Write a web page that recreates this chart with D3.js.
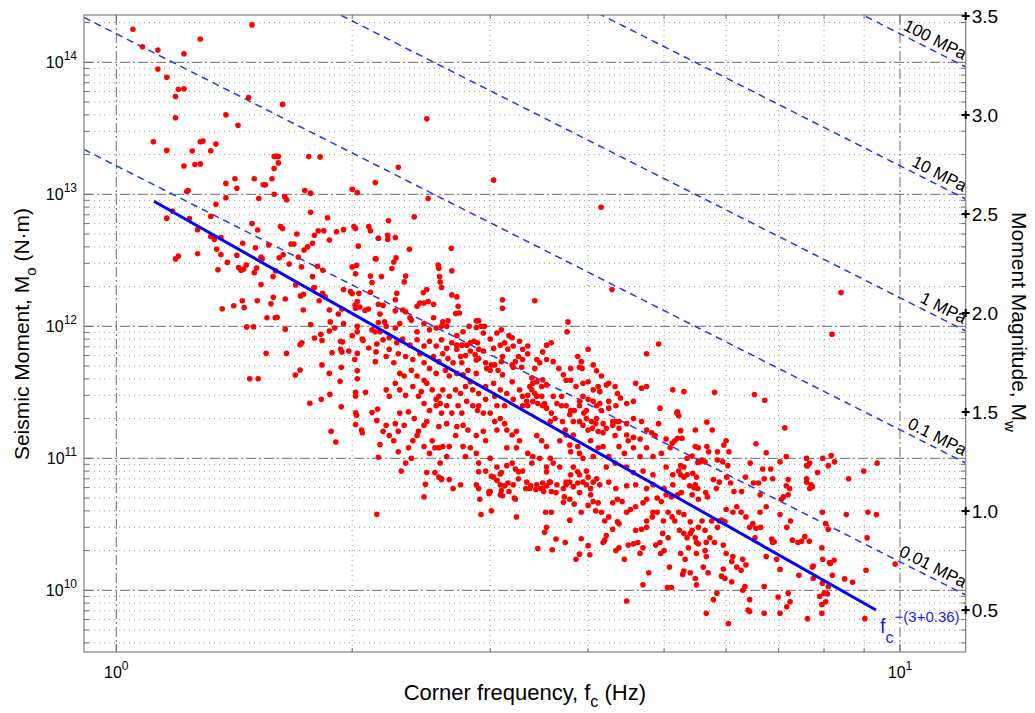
<!DOCTYPE html>
<html><head><meta charset="utf-8">
<script src="https://cdn.jsdelivr.net/npm/d3@7/dist/d3.min.js"></script>
<style>
body{margin:0;background:#fff}
svg{display:block}
text{font-family:"Liberation Sans",Arial,Helvetica,sans-serif;fill:#000}
</style>
</head><body>
<svg id="chart" width="1035" height="713"></svg>
<script>
// ---------------- data ----------------
const fcDomain = [0.9095, 12.13];          // Hz, x-axis limits
const m0Domain = [3.41e9, 2.282e14];       // N·m, y-axis limits
const xMajorTicks = [1, 10];
const yMajorTicks = [1e10, 1e11, 1e12, 1e13, 1e14];
const mwTicks = [0.5, 1.0, 1.5, 2.0, 2.5, 3.0, 3.5];
const stressDrops = [100, 10, 1, 0.1, 0.01];            // MPa
const stressLabels = ["100 MPa", "10 MPa", "1 MPa", "0.1 MPa", "0.01 MPa"];
const stressLogConst1MPa = 15.216;   // log10(M0) + 3 log10(fc) for 1 MPa
const fitExponent = 3.36;
const fitFcRange = [1.117, 9.32];
const fitM0AtStart = 8.85e12;
const fitLabelSup = "\u2212(3+0.36)";

// [corner frequency (Hz), seismic moment (N·m)]
const events = [
[1.05,1.78e14],[1.08,1.31e14],[1.13,1.24e14],[1.22,1.16e14],[1.28,1.5e14],[1.49,1.92e14],[1.13,8.9e13],[1.16,7.7e13],[1.2,6.25e13],[1.22,6.3e13],[1.19,5.5e13],[1.19,3.8e13],[1.115,2.5e13],[1.16,2.15e13],[1.475,5.4e13],[1.63,4.8e13],[1.38,4.0e13],[1.43,3.33e13],[1.28,2.5e13],[1.29,2.53e13],[1.25,2.13e13],[1.32,2.14e13],[1.34,2.4e13],[1.22,1.64e13],[1.26,1.68e13],[1.28,1.7e13],[1.23,1.05e13],[1.235,1.07e13],[1.38,1.21e13],[1.425,1.11e13],[1.417,1.31e13],[1.5,1.31e13],[1.54,1.18e13],[1.55,1.18e13],[1.58,1.31e13],[1.59,1.93e13],[1.6,1.95e13],[1.61,1.93e13],[1.61,1.73e13],[1.59,1.57e13],[1.59,1.0e13],[1.52,9.3e12],[1.64,9.6e12],[1.65,9.1e12],[1.34,8.4e12],[1.38,9.4e12],[1.18,7.47e12],[1.16,6.6e12],[1.24,6.55e12],[1.32,6.8e12],[1.49,6.0e12],[1.515,5.37e12],[1.62,5.7e12],[1.63,5.5e12],[1.7,5.0e12],[1.27,5.4e12],[1.32,4.8e12],[1.36,4.7e12],
[1.76,1.93e13],[1.82,1.92e13],[2.14,1.23e13],[2.0,1.09e13],[2.03,1.03e13],[1.74,1.07e13],[1.77,1.02e13],[1.77,7.3e12],[1.86,6.65e12],[1.81,5.3e12],[1.84,5.3e12],[1.91,5.2e12],[1.95,5.4e12],[2.01,5.7e12],[2.02,5.5e12],[2.1,5.7e12],[2.11,5.3e12],[1.87,4.5e12],[2.16,4.65e12],
[1.334,4.55e12],[1.343,3.83e12],[1.36,3.5e12],[1.27,3.55e12],[1.19,3.24e12],[1.2,3.4e12],[1.386,3.05e12],[1.348,2.68e12],[1.425,3.45e12],[1.45,4.25e12],[1.465,2.91e12],[1.433,2.79e12],[1.443,2.66e12],[1.454,2.72e12],[1.505,3.94e12],[1.53,3.33e12],[1.535,3.24e12],[1.51,2.76e12],[1.5,2.55e12],[1.53,2.07e12],[1.565,4.13e12],[1.585,2.38e12],[1.597,2.63e12],[1.614,3.3e12],[1.633,3.48e12],[1.643,1.61e12],[1.662,2.96e12],[1.671,4.2e12],[1.685,4.2e12],[1.707,3.35e12],[1.723,2.82e12],[1.736,3.79e12],[1.755,4.0e12],[1.78,4.25e12],[1.79,4.9e12],[1.78,2.38e12],[1.806,2.85e12],[1.835,2.66e12],[1.785,1.94e12],[1.833,1.78e12],[1.847,1.67e12],[1.815,1.56e12],[1.718,1.7e12],[1.586,1.66e12],[1.575,1.48e12],[1.513,1.56e12],[1.456,1.39e12],[1.448,1.56e12],[1.412,1.43e12],[1.365,1.36e12],[1.467,0.99e12],[1.497,0.99e12],[1.553,6.24e11],[1.48,4.0e11],[1.517,4.0e11],[1.557,1.16e12],[1.595,1.16e12],[1.604,1.17e12],[1.643,9.5e11],[1.649,6.24e11],[1.692,4.28e11],[1.716,4.66e11],[1.716,7.26e11],[1.725,7.5e11],[1.732,1.33e12],[1.77,1.03e12],[1.79,8.15e11],[1.83,7.8e11],[1.824,8.7e11],[1.83,5.1e11],[1.87,4.4e11],[1.875,1.08e12],[1.87,1.33e12],[1.87,9.2e11],[1.9,9.7e11],[1.92,1.24e12],[1.94,1.35e12],[1.933,7.7e11],[1.944,7.6e11],[1.933,6.7e11],[1.94,6.4e11],[1.98,6.5e11],[1.93,3.83e11],[1.937,4.9e11],[1.95,1.9e12],[1.95,1.05e12],[2.036,4.05e12],[2.0,2.82e12],[2.026,2.9e12],[2.02,2.5e12],[1.99,1.83e12],[2.0,1.77e12],[2.04,1.78e12],[2.03,1.54e12],[2.02,1.37e12],[2.017,1.45e12],[2.045,1.4e12],[2.077,1.32e12],[2.097,1.35e12],[2.11,1.81e12],[2.11,2.4e12],[2.12,2.15e12],[2.145,3.24e12],[2.16,1.47e12],[2.17,1.24e12],[2.16,1.07e12],[2.17,9.1e11],[2.12,9.4e11],[2.14,9.1e11],[2.06,8.0e11],[2.065,7.8e11],[2.03,1.0e12],[2.03,9.1e11],[2.0,8.5e11],[2.015,5.6e11],[2.03,6.25e11],[2.1,6.85e11],[2.15,7.35e11],[2.145,6.4e11],[2.14,5.4e11],[2.03,4.6e11],[2.03,4.0e11],[2.02,3.16e11],[2.08,3.16e11],[1.873,3.05e11],[1.826,2.8e11],[1.694,2.06e12],[1.79,1.97e12],[1.733,1.75e12],[1.885,6.3e11],
[1.766,2.61e11],[1.937,2.46e11],[2.02,2.96e11],[2.02,2.21e11],[2.026,2.12e11],[2.12,2.22e11],[2.155,2.36e11],[2.15,1.93e11],[2.02,1.8e11],[2.055,1.64e11],[2.06,1.56e11],[1.88,1.6e11],[1.906,1.33e11],[2.17,1.27e11],[2.16,1.02e11],[2.15,3.77e10],
[2.49,3.74e13],[2.29,1.6e13],[3.03,1.28e13],[2.5,9.3e12],[4.155,7.97e12],[2.4,6.75e12],[2.225,6.3e12],[2.16,4.65e12],[2.22,4.9e12],[2.22,4.55e12],[2.27,4.7e12],[2.366,3.83e12],[2.676,3.9e12],[2.275,3.3e12],[2.14,3.25e12],
[2.26,3.07e12],[2.247,2.74e12],[2.18,2.38e12],[2.34,2.4e12],[2.33,2.17e12],[2.465,1.8e12],[2.49,1.9e12],[2.575,2.91e12],[2.58,2.75e12],[2.585,2.38e12],[2.59,2.16e12],[2.6,1.97e12],[2.68,2.63e12],[2.68,1.73e12],[2.2,1.08e12],[2.19,1.44e12],[2.27,1.59e12],[2.28,1.78e12],[2.27,1.31e12],[2.32,1.33e12],[2.34,1.29e12],[2.37,1.16e12],[2.38,1.11e12],[2.42,1.42e12],[2.44,1.5e12],[2.47,1.5e12],[2.54,1.47e12],[2.5,1.54e12],[2.54,1.16e12],[2.61,1.08e12],[2.65,1.1e12],[2.6,1.0e12],[2.64,1.0e12],[2.73,1.42e12],[2.74,1.26e12],[2.71,1.25e12],[2.72,1.67e12],[2.82,1.0e12],[2.88,9.8e11],[2.92,1.0e12],[2.95,1.0e12],[2.88,1.1e12],[2.9,1.1e12],[2.76,7.2e11],[2.8,7.2e11],[2.83,7.5e11],[2.86,7.7e11],[2.89,7.5e11],[2.72,7.2e11],[2.75,5.9e11],[2.79,6.0e11],[2.83,6.5e11],[2.76,5.3e11],[2.87,6.1e11],[2.9,6.7e11],[2.94,6.5e11],[2.9,5.7e11],[2.88,5.55e11],[2.96,5.3e11],[2.97,4.8e11],[3.0,4.65e11],[3.01,5.1e11],[3.04,5.1e11],[3.1,5.4e11],[3.11,5.9e11],[3.07,4.65e11],[3.11,4.3e11],[3.2,5.1e11],[3.21,4.9e11],[3.23,5.4e11],[3.2,3.8e11],[3.29,4.9e11],[3.39,4.07e11],[3.4,3.7e11],[3.44,3.8e11],[3.37,3.5e11],[3.42,4.8e11],[3.5,3.93e11],[3.49,3.5e11],[3.54,3.6e11],[3.39,3.3e11],[3.42,3.1e11],[3.44,2.95e11],[3.4,2.7e11],[3.45,2.6e11],[3.35,3.0e11],[3.34,2.7e11],[3.3,2.5e11],[3.35,2.5e11],[3.49,2.95e11],[3.52,2.6e11],[3.54,2.4e11],[3.5,2.5e11],[3.61,2.95e11],[3.65,2.6e11],[3.7,2.5e11],[3.59,2.2e11],[3.63,2.0e11],[3.58,1.9e11],[3.7,2.95e11],[3.75,2.5e11],[3.8,2.3e11],[3.84,2.3e11],[3.79,2.15e11],[3.71,1.9e11],[3.83,1.9e11],[3.9,1.9e11],[3.9,2.5e11],[3.95,2.2e11],[3.98,2.3e11],[3.94,1.78e11],[4.0,1.64e11],[4.05,1.69e11],[4.09,1.83e11],[4.12,1.6e11],[4.18,1.56e11],[4.22,1.69e11],[4.3,1.78e11],[4.38,1.69e11],[4.33,1.49e11],[4.48,1.5e11],[4.57,1.44e11],[4.5,1.36e11],[4.66,1.4e11],[4.75,1.64e11],[4.82,1.56e11],[4.87,1.49e11],[4.92,1.83e11],[4.94,2.4e11],[5.13,3.3e11],[5.16,1.36e11],[5.03,1.4e11],[5.09,1.2e11],[4.25,2.4e11],[4.3,1.9e11],[4.34,2.5e11],[4.4,2.86e11],[4.48,2.6e11],[4.57,2.7e11],[4.6,3.7e11],[4.75,3.5e11],[4.68,3.4e11],[4.34,1.9e11],[4.38,1.9e11],[3.94,3.7e11],[4.0,3.8e11],[4.06,3.3e11],[4.12,3.5e11],[4.14,3.2e11],[4.22,3.6e11],[3.8,3.9e11],[3.86,3.5e11],[3.72,4.3e11],[3.75,3.9e11],[3.67,4.8e11],[3.94,2.95e11],[4.0,2.8e11],[3.9,2.7e11],[4.06,2.7e11],[4.1,2.5e11],[4.14,2.6e11],[4.16,2.3e11],[4.25,2.7e11],[3.98,2.0e11],[3.74,1.64e11],[3.75,1.5e11],[3.83,1.5e11],[3.68,1.36e11],[3.79,1.26e11],[3.8,1.12e11],[3.88,1.23e11],[3.9,1.09e11],[3.94,1.0e11],[4.03,1.36e11],[4.12,1.2e11],[4.18,1.23e11],[4.06,1.03e11],[3.44,1.49e11],[3.49,1.36e11],[3.54,1.23e11],[3.35,1.09e11],[3.4,1.03e11],[3.47,1.0e11],[3.39,9.2e10],[3.58,1.0e11],[3.61,9.2e10],[3.54,8.6e10],[3.68,8.6e10],[3.2,9.2e10],[3.23,8.3e10],[3.3,8.0e10],[3.26,7.0e10],[3.34,6.6e10],[3.06,8.6e10],[3.1,7.8e10],[3.15,8.8e10],[3.03,7.2e10],[3.0,1.0e11],[2.9,9.2e10],[2.96,8.0e10],[2.88,1.09e11],[2.83,1.2e11],[2.77,1.23e11],[2.79,1.03e11],[2.71,1.49e11],[2.66,1.23e11],[2.64,1.03e11],[2.59,9.2e10],[2.55,7.8e10],[2.6,7.0e10],[2.49,7.8e10],[2.47,5.1e10],[2.66,6.9e10],[2.34,9.2e10],[2.38,1.0e11],[2.31,8.0e10],[2.47,1.23e11],[2.53,1.36e11],[2.58,1.2e11],[2.61,1.23e11],[2.55,1.2e11],[2.51,1.09e11],[2.39,1.36e11],[2.42,1.49e11],[2.36,1.2e11],[2.29,1.12e11],[2.26,1.36e11],[2.23,1.49e11],[2.19,1.6e11],[2.21,1.78e11],[2.27,1.83e11],[2.3,2.2e11],[2.36,2.25e11],[2.4,2.0e11],[2.47,2.6e11],[2.51,2.3e11],[2.56,2.5e11],[2.6,2.2e11],[2.64,2.5e11],[2.68,2.2e11],[2.73,2.5e11],[2.76,2.2e11],[2.8,2.7e11],[2.85,2.5e11],[2.89,2.3e11],[2.94,2.2e11],[3.0,2.2e11],[3.04,1.9e11],[3.09,2.0e11],[3.13,1.83e11],[3.15,1.64e11],[3.2,1.5e11],[3.24,1.6e11],[3.06,1.64e11],[2.94,1.6e11],[2.88,1.49e11],[2.96,1.36e11],[3.27,1.36e11],[3.24,1.2e11],[3.15,1.2e11],[2.77,1.78e11],[2.81,1.64e11],[2.72,1.74e11],[2.64,1.83e11],[2.58,1.74e11],[2.47,1.78e11],[2.49,1.9e11],[2.43,1.6e11],[2.33,1.78e11],[2.29,1.6e11],[2.23,2.95e11],[2.21,3.3e11],[2.27,3.7e11],[2.3,3.3e11],[2.34,3.0e11],[2.39,3.5e11],[2.43,2.95e11],[2.45,3.2e11],[2.49,3.7e11],[2.53,3.3e11],[2.56,2.8e11],[2.59,2.6e11],[2.58,2.95e11],[2.61,3.3e11],[2.66,2.95e11],[2.71,3.3e11],[2.75,3.1e11],[2.79,3.5e11],[2.83,3.8e11],[2.85,3.3e11],[2.9,3.1e11],[2.96,3.5e11],[3.03,3.7e11],[3.09,3.3e11],[3.04,2.95e11],[3.15,3.1e11],[3.21,2.8e11],[3.27,3.3e11],[3.3,2.95e11],[2.96,2.8e11],[2.9,2.5e11],[3.06,2.5e11],[3.13,2.5e11],[2.38,4.65e11],[2.42,4.2e11],[2.47,3.9e11],[2.33,4.2e11],[2.3,4.4e11],[2.51,4.8e11],[2.56,4.4e11],[2.63,4.65e11],[2.66,4.2e11],[2.72,4.4e11],[2.77,4.3e11],[2.81,4.65e11],[2.88,4.4e11],[2.21,5.9e11],[2.26,5.3e11],[2.29,6.2e11],[2.23,6.7e11],[2.34,5.9e11],[2.39,5.6e11],[2.44,6.2e11],[2.47,5.3e11],[2.54,5.9e11],[2.58,5.4e11],[2.61,6.2e11],[2.65,5.7e11],[2.69,5.3e11],[2.19,7.9e11],[2.23,8.2e11],[2.28,7.5e11],[2.32,8.0e11],[2.37,7.2e11],[2.42,7.9e11],[2.47,7.1e11],[2.51,7.7e11],[2.56,7.1e11],[2.6,7.9e11],[2.64,6.8e11],[2.68,7.5e11],[2.72,6.7e11],[2.21,1.0e12],[2.27,9.7e11],[2.3,1.05e12],[2.47,1.05e12],[2.51,9.4e11],[2.56,9.7e11],[2.42,9.1e11],[2.77,9.1e11],[2.72,8.5e11],[2.94,8.9e11],[3.0,8.0e11],[3.06,8.9e11],[3.1,9.4e11],[3.03,6.8e11],[3.09,7.2e11],[3.16,6.7e11],[3.13,7.5e11],[3.21,7.1e11],[3.27,7.7e11],[3.3,6.7e11],[3.35,7.1e11],[3.11,1.59e12],[3.11,1.37e12],[3.17,8.5e11],[3.2,8.2e11],[3.42,1.56e12],[3.54,7.2e11],[3.59,7.5e11],[3.5,6.4e11],[3.44,5.6e11],[3.47,5.3e11],[3.3,5.6e11],[3.26,5.9e11],[3.35,6.2e11],[3.77,1.08e12],[3.76,9.1e11],[3.8,4.8e11],[3.54,5.6e11],[3.61,5.4e11],[3.88,5.9e11],[3.92,5.4e11],[3.9,4.9e11],[4.0,6.7e11],[3.93,4.8e11],[4.06,5.1e11],[4.1,4.6e11],[4.16,4.2e11],[4.29,1.9e12],[4.75,6.2e11],[4.92,7.35e11],[5.19,2.2e11],[4.25,3.7e11],[4.33,3.5e11],[4.36,3.1e11],[4.04,1.9e11],[4.1,2.0e11],[4.18,1.83e11],[4.48,1.83e11],[4.57,2.0e11],[4.68,1.9e11],[4.75,1.2e11],[4.84,1.03e11],[4.96,1.09e11],[4.38,1.23e11],[4.45,1.09e11],[4.57,1.2e11],[4.66,1.03e11],[4.25,1.03e11],[4.33,9.2e10],[4.22,8.6e10],[4.48,8.6e10],[4.57,7.8e10],[4.7,8.0e10],[4.84,7.5e10],[5.03,8.6e10],[5.13,7.5e10],[3.83,8.6e10],[3.9,7.5e10],[3.98,8.0e10],[4.06,6.6e10],[4.14,6.3e10],[4.25,6.6e10],[4.34,5.9e10],[4.48,6.2e10],[4.6,6.3e10],[4.75,5.9e10],[3.75,6.6e10],[3.65,6.3e10],[3.58,6.6e10],[3.44,6.3e10],[3.5,5.9e10],[3.37,5.9e10],[3.21,6.3e10],[3.13,6.2e10],[3.0,5.6e10],[3.09,5.3e10],[2.88,6.3e10],[2.9,5.9e10],[2.75,6.3e10],[2.69,5.9e10],[4.84,6.3e10],[5.0,5.9e10],[5.13,6.3e10],
[2.58,7.2e10],[2.6,6.9e10],[2.48,6.35e10],[2.9,7.9e10],[3.01,7.3e10],[3.06,6.8e10],[3.09,7.6e10],[3.09,6.3e10],[3.1,5.7e10],[3.11,5.2e10],[2.99,5.6e10],[2.99,5.4e10],[2.91,4.9e10],[2.92,3.75e10],[3.01,4.0e10],[3.16,6.5e10],[3.17,5.6e10],[3.22,5.0e10],[3.23,4.9e10],[3.24,3.6e10],[3.26,7.9e10],[3.54,7.9e10],[3.33,5.9e10],[3.38,6.2e10],[3.43,5.8e10],[3.48,5.9e10],[3.51,5.6e10],[3.54,6.2e10],[3.57,6.6e10],[3.5,6.5e10],[3.59,5.6e10],[3.64,5.5e10],[3.72,5.9e10],[3.73,5.1e10],[3.53,3.9e10],[3.59,3.9e10],[3.54,3.0e10],[3.52,2.75e10],[3.79,3.4e10],[3.64,2.45e10],[3.74,2.3e10],[3.92,2.46e10],[4.0,2.18e10],[3.45,2.07e10],[3.6,2.03e10],[3.9,1.88e10],[3.86,1.72e10],[4.02,1.86e10],[3.72,4.65e10],[3.79,4.9e10],[3.84,4.5e10],[3.92,3.9e10],[4.0,4.4e10],[4.09,4.0e10],[3.75,6.3e10],[3.79,6.6e10],[3.83,6.1e10],[3.88,6.5e10],[3.94,6.6e10],[3.98,6.3e10],[4.03,5.9e10],[3.9,5.5e10],[4.03,5.3e10],[3.8,7.5e10],[3.88,7.9e10],[4.0,7.2e10],[4.1,7.0e10],
[5.3,3.2e11],[5.8,3.16e11],[6.52,3.04e11],[6.72,2.75e11],[5.2,2.25e11],[5.22,2.1e11],[5.67,1.88e11],[5.48,1.64e11],[5.25,1.62e11],[5.76,1.64e11],[7.13,1.7e11],[5.2,1.42e11],[5.27,1.42e11],[5.12,1.3e11],[5.48,1.23e11],[5.53,1.2e11],[5.67,1.23e11],[5.7,1.12e11],[5.85,1.12e11],[5.96,1.26e11],[6.0,1.36e11],[6.05,1.12e11],[5.85,9.7e10],[5.56,9.4e10],[5.59,9.7e10],[5.64,9.4e10],[5.35,1.0e11],[5.43,1.04e11],[5.52,9.3e10],[5.25,8.8e10],[5.3,8.6e10],[5.22,8.0e10],[5.25,7.5e10],[5.3,7.2e10],[5.35,7.5e10],[5.44,7.7e10],[5.5,7.2e10],[5.39,6.2e10],[5.46,6.0e10],[5.52,5.9e10],[5.48,6.3e10],[5.2,5.3e10],[5.26,5.5e10],[5.43,5.3e10],[5.53,4.9e10],[5.65,5.5e10],[5.68,5.1e10],[5.83,5.9e10],[5.88,6.6e10],[5.94,9.4e10],[6.03,8.8e10],[6.01,7.2e10],[6.08,6.5e10],[6.14,5.6e10],[5.78,6.9e10],[6.28,5.6e10],[6.35,7.2e10],[6.5,6.5e10],[6.6,6.5e10],[6.44,9.2e10],[6.55,1.29e11],[6.68,8.3e10],[6.84,8.3e10],[6.71,7.0e10],[6.88,7.0e10],[6.75,1.1e11],[6.63,5.3e10],[6.53,2.5e10],[6.86,2.45e10],[6.88,2.3e10],[6.91,2.33e10],[7.03,1.44e10],[7.06,4.9e10],[7.1,5.1e10],[7.16,6.2e10],[7.23,5.9e10],[7.2,5.3e10],[7.2,6.9e10],[7.6,7.0e10],[7.7,6.3e10],[7.67,5.9e10],[7.6,8.8e10],[7.85,7.8e10],[7.96,3.9e10],[8.04,3.2e10],[8.1,2.9e10],[7.03,3.75e10],[7.25,3.35e10],[7.17,3.0e10],[7.29,2.4e10],[7.41,2.3e10],[6.96,1.72e10],[6.75,1.8e10],[7.43,1.3e10],[7.75,1.53e10],[7.97,1.72e10],[8.13,1.62e10],[7.75,1.23e10],[7.96,1.13e10],[8.1,1.07e10],[8.0,9.5e9],[7.9,9.0e9],[8.04,8.2e9],[7.95,7.8e9],[7.62,6.1e9],[7.95,6.7e9],[6.71,1.07e10],[6.99,8.9e9],[7.2,9.5e9],[7.24,8.2e9],[6.43,8.5e9],[6.71,6.7e9],[7.03,6.7e9],[7.17,7.5e9],[6.34,1.07e10],[6.3,1.0e10],[6.43,6.9e9],[6.4,7.1e9],[6.1,1.16e10],[5.98,1.23e10],[6.04,5.6e9],[5.78,8.5e9],[5.84,9.5e9],[5.66,6.7e9],[5.95,1.45e10],[5.92,1.28e10],[5.61,1.5e10],[5.69,1.36e10],[5.4,1.36e10],[5.5,1.1e10],[5.48,1.23e10],[5.3,1.4e10],[5.28,1.32e10],[5.25,1.9e10],[5.32,1.72e10],[5.37,2.1e10],[5.5,1.9e10],[5.64,2.0e10],[5.66,1.8e10],[5.48,2.5e10],[5.5,2.3e10],[5.53,2.25e10],[5.23,2.85e10],[5.3,2.7e10],[5.35,2.5e10],[5.4,2.7e10],[5.64,2.85e10],[5.66,2.3e10],[5.72,2.5e10],[5.8,2.3e10],[5.95,2.2e10],[6.0,1.9e10],[6.12,1.8e10],[6.1,1.65e10],[6.3,1.72e10],[6.36,1.56e10],[6.19,1.5e10],[6.27,1.42e10],[6.43,3.0e10],[6.49,3.2e10],[6.55,2.95e10],[6.64,3.0e10],[5.85,3.0e10],[5.88,3.35e10],[5.98,3.3e10],[6.0,4.1e10],[6.12,3.9e10],[6.19,4.3e10],[6.27,3.9e10],[6.36,3.6e10],[5.92,3.4e10],[5.75,3.35e10],[5.59,3.35e10],[5.53,3.0e10],[5.43,2.85e10],[5.22,3.9e10],[5.3,3.75e10],[5.16,3.35e10],[5.4,3.3e10],[6.63,3.9e10],[6.75,4.3e10],[7.03,9.4e10],[7.16,1.03e11],[7.6,1.0e11],[7.67,9.2e10],[7.97,1.0e11],[8.17,1.05e11],[8.25,9.4e10],[8.1,8.8e10],[8.6,7.0e10],[8.99,8.0e10],[9.1,3.9e10],[9.05,1.42e10],[8.7,1.15e10],[8.5,1.22e10],[9.33,3.75e10],[9.02,6.1e9],[8.54,3.75e10],[9.08,2.5e10],
[4.48,8.3e9],[4.7,1.1e10],[4.78,1.36e10],[5.05,1.05e10],[5.11,1.05e10],[5.08,1.5e10],[4.95,1.9e10],[5.0,2.0e10],[4.88,2.2e10],[4.94,2.3e10],[4.98,2.7e10],[5.06,2.5e10],[4.66,1.9e10],[4.7,2.1e10],[4.63,2.3e10],[4.57,2.25e10],[4.5,2.2e10],[4.38,2.1e10],[4.34,2.0e10],[4.45,1.72e10],[4.18,2.3e10],[4.2,2.4e10],[4.22,2.6e10],[4.3,2.9e10],[4.38,3.2e10],[4.36,3.3e10],[4.6,2.85e10],[4.68,2.9e10],[4.75,3.0e10],[4.75,3.35e10],[4.83,3.6e10],[4.9,3.9e10],[4.84,3.9e10],[4.99,3.35e10],[5.06,3.9e10],[5.12,3.6e10],[4.48,3.9e10],[4.53,4.1e10],[4.6,4.3e10],[4.16,3.9e10],[4.2,3.35e10],[4.25,3.6e10],[4.06,4.7e10],[4.12,4.6e10],[4.3,4.6e10],[4.36,4.9e10],[4.42,4.7e10],[4.7,4.6e10],[4.75,4.9e10],[4.9,5.0e10],[4.96,4.7e10],[5.03,5.3e10],[5.11,5.1e10],
[8.41,1.8e12],[8.19,8.7e11],[7.62,8.8e10],[9.35,9.2e10],[7.6,6.6e10],[7.73,6.1e10],[7.49,2.35e10],[7.66,2.35e10],[7.56,2.55e10],[7.95,2.1e10],[7.73,1.5e10],[8.15,1.6e10],[8.24,1.69e10],[8.2,1.3e10],[9.86,1.58e10],[8.08,9.4e9]
];

// ---------------- layout ----------------
const svg = d3.select("#chart");
const L = 84, R = 965.7, T = 15, B = 652;
const x = d3.scaleLog().domain(fcDomain).range([L, R]);
const y = d3.scaleLog().domain(m0Domain).range([B, T]);

svg.append("defs").append("clipPath").attr("id", "plotclip")
  .append("rect").attr("x", L).attr("y", T).attr("width", R - L).attr("height", B - T);

// minor / major tick values
const xMinor = [];
for (let d = -1; d <= 1; d++) for (let m = 2; m <= 9; m++) {
  const v = m * Math.pow(10, d);
  if (v > fcDomain[0] && v < fcDomain[1]) xMinor.push(v);
}
const yMinor = [];
for (let d = 9; d <= 14; d++) for (let m = 2; m <= 9; m++) {
  const v = m * Math.pow(10, d);
  if (v > m0Domain[0] && v < m0Domain[1]) yMinor.push(v);
}

const grid = svg.append("g");
grid.selectAll(".gxm").data(xMinor).join("line")
  .attr("x1", d => x(d)).attr("x2", d => x(d)).attr("y1", T).attr("y2", B)
  .attr("stroke", "#9a9a9a").attr("stroke-width", 1).attr("stroke-dasharray", "1,4");
grid.selectAll(".gym").data(yMinor).join("line")
  .attr("x1", L).attr("x2", R).attr("y1", d => y(d)).attr("y2", d => y(d))
  .attr("stroke", "#9a9a9a").attr("stroke-width", 1).attr("stroke-dasharray", "1,4");
grid.selectAll(".gxM").data(xMajorTicks).join("line")
  .attr("x1", d => x(d)).attr("x2", d => x(d)).attr("y1", T).attr("y2", B)
  .attr("stroke", "#6a6a6a").attr("stroke-width", 1).attr("stroke-dasharray", "10,3,2,3");
grid.selectAll(".gyM").data(yMajorTicks).join("line")
  .attr("x1", L).attr("x2", R).attr("y1", d => y(d)).attr("y2", d => y(d))
  .attr("stroke", "#6a6a6a").attr("stroke-width", 1).attr("stroke-dasharray", "10,3,2,3");

// constant stress-drop lines
const plotG = svg.append("g").attr("clip-path", "url(#plotclip)");
const stressM0 = (ds, fc) => Math.pow(10, stressLogConst1MPa + Math.log10(ds) - 3 * Math.log10(fc));
const line = d3.line().x(d => x(d[0])).y(d => y(d[1]));
stressDrops.forEach(ds => {
  plotG.append("path")
    .attr("d", line(fcDomain.map(f => [f, stressM0(ds, f)])))
    .attr("fill", "none").attr("stroke", "#2233ff").attr("stroke-width", 1.5)
    .attr("stroke-dasharray", "7,5");
});

// events
plotG.selectAll("circle").data(events).join("circle")
  .attr("cx", d => x(d[0])).attr("cy", d => y(d[1])).attr("r", 2.8)
  .attr("fill", "#ff0000");

// fit line
const fitM0 = fc => fitM0AtStart * Math.pow(fc / fitFcRange[0], -fitExponent);
plotG.append("path")
  .attr("d", line(fitFcRange.map(f => [f, fitM0(f)])))
  .attr("fill", "none").attr("stroke", "#0000ff").attr("stroke-width", 3);

// stress labels
const angle = Math.atan2(y(stressM0(1, 10)) - y(stressM0(1, 1)), x(10) - x(1)) * 180 / Math.PI;
stressDrops.forEach((ds, i) => {
  const fEnd = x.invert(R - 5);
  const px = x(fEnd), py = y(stressM0(ds, fEnd));
  svg.append("text")
    .attr("transform", `translate(${px},${py}) rotate(${angle})`)
    .attr("dy", -5).attr("text-anchor", "end")
    .style("font-size", "17px").text(stressLabels[i]);
});

// fit label
{
  const fEnd = fitFcRange[1];
  const px = x(fEnd) + 4, py = y(fitM0(fEnd)) + 23;
  const t = svg.append("text").attr("x", px).attr("y", py)
    .style("font-size", "20px").style("fill", "#1a1aff");
  t.append("tspan").text("f").style("fill", "#1a1aff");
  t.append("tspan").attr("dy", 10).style("font-size", "16px").style("fill", "#1a1aff").text("c");
  t.append("tspan").attr("dy", -21).attr("dx", 1).style("font-size", "15px").style("fill", "#1a1aff").text(fitLabelSup);
}

// box
svg.append("rect").attr("x", L).attr("y", T).attr("width", R - L).attr("height", B - T)
  .attr("fill", "none").attr("stroke", "#808080").attr("stroke-width", 1.2);

// ticks (inward, all four sides)
const tk = svg.append("g").attr("stroke", "#707070").attr("stroke-width", 1);
xMinor.forEach(v => {
  tk.append("line").attr("x1", x(v)).attr("x2", x(v)).attr("y1", B).attr("y2", B - 4);
  tk.append("line").attr("x1", x(v)).attr("x2", x(v)).attr("y1", T).attr("y2", T + 4);
});
xMajorTicks.forEach(v => {
  tk.append("line").attr("x1", x(v)).attr("x2", x(v)).attr("y1", B).attr("y2", B - 8);
  tk.append("line").attr("x1", x(v)).attr("x2", x(v)).attr("y1", T).attr("y2", T + 8);
});
yMinor.forEach(v => {
  tk.append("line").attr("x1", L).attr("x2", L + 5).attr("y1", y(v)).attr("y2", y(v));
  tk.append("line").attr("x1", R).attr("x2", R - 5).attr("y1", y(v)).attr("y2", y(v));
});
yMajorTicks.forEach(v => {
  tk.append("line").attr("x1", L).attr("x2", L + 8).attr("y1", y(v)).attr("y2", y(v));
  tk.append("line").attr("x1", R).attr("x2", R - 8).attr("y1", y(v)).attr("y2", y(v));
});

// x tick labels 10^n
xMajorTicks.forEach(v => {
  const t = svg.append("text").attr("x", x(v)).attr("y", B + 26)
    .attr("text-anchor", "middle").style("font-size", "16px");
  t.append("tspan").text("10");
  t.append("tspan").attr("dy", -8).style("font-size", "12px").text(String(Math.round(Math.log10(v))));
});
// y tick labels 10^n
yMajorTicks.forEach(v => {
  const t = svg.append("text").attr("x", L - 7).attr("y", y(v) + 6)
    .attr("text-anchor", "end").style("font-size", "16px");
  t.append("tspan").text("10");
  t.append("tspan").attr("dy", -8).style("font-size", "12px").text(String(Math.round(Math.log10(v))));
});

// right Mw axis: "+" markers and labels
const mwToM0 = mw => Math.pow(10, 1.5 * mw + 9.1);
mwTicks.forEach(mw => {
  const py = y(mwToM0(mw));
  svg.append("path").attr("d", `M${R - 4},${py}H${R + 4}M${R},${py - 4}V${py + 4}`)
    .attr("stroke", "#000").attr("stroke-width", 2);
  svg.append("text").attr("x", R + 6).attr("y", py).attr("dy", "0.36em")
    .style("font-size", "19px").text(d3.format(".1f")(mw));
});

// axis titles
{
  const t = svg.append("text").attr("x", (L + R) / 2).attr("y", 700)
    .attr("text-anchor", "middle").style("font-size", "22px");
  t.append("tspan").text("Corner frequency, f");
  t.append("tspan").attr("dy", 7).style("font-size", "16px").text("c");
  t.append("tspan").attr("dy", -7).text(" (Hz)");
}
{
  const t = svg.append("text").attr("transform", "translate(29,334) rotate(-90)")
    .attr("text-anchor", "middle").style("font-size", "21px");
  t.append("tspan").text("Seismic Moment, M");
  t.append("tspan").attr("dy", 7).style("font-size", "15px").text("o");
  t.append("tspan").attr("dy", -7).text(" (N\u00b7m)");
}
{
  const t = svg.append("text").attr("transform", "translate(1012,322) rotate(90)")
    .attr("text-anchor", "middle").style("font-size", "21px");
  t.append("tspan").text("Moment Magnitude, M");
  t.append("tspan").attr("dy", 7).style("font-size", "15px").text("w");
}
</script>
</body></html>
